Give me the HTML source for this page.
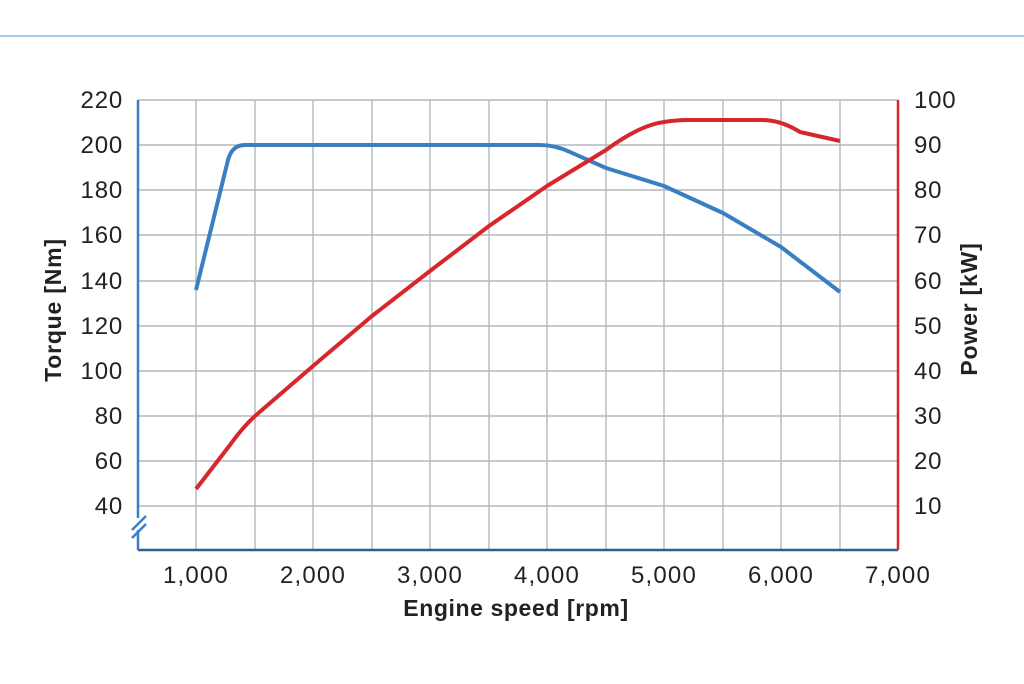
<!DOCTYPE html>
<html><head><meta charset="utf-8"><style>body{margin:0;background:#fff}svg{display:block}</style></head><body>
<svg width="1024" height="684" viewBox="0 0 1024 684" xmlns="http://www.w3.org/2000/svg" font-family="Liberation Sans, sans-serif">
<rect width="1024" height="684" fill="#fff"/>
<line x1="0" y1="36" x2="1024" y2="36" stroke="#a9c8e6" stroke-width="2"/>
<g stroke="#b4b9be" stroke-width="1.4">
<line x1="138" y1="100" x2="898" y2="100"/><line x1="138" y1="145" x2="898" y2="145"/><line x1="138" y1="190" x2="898" y2="190"/><line x1="138" y1="235" x2="898" y2="235"/><line x1="138" y1="281" x2="898" y2="281"/><line x1="138" y1="326" x2="898" y2="326"/><line x1="138" y1="371" x2="898" y2="371"/><line x1="138" y1="416" x2="898" y2="416"/><line x1="138" y1="461" x2="898" y2="461"/><line x1="138" y1="506" x2="898" y2="506"/>
<line x1="196" y1="100" x2="196" y2="550"/><line x1="255" y1="100" x2="255" y2="550"/><line x1="313" y1="100" x2="313" y2="550"/><line x1="372" y1="100" x2="372" y2="550"/><line x1="430" y1="100" x2="430" y2="550"/><line x1="489" y1="100" x2="489" y2="550"/><line x1="547" y1="100" x2="547" y2="550"/><line x1="606" y1="100" x2="606" y2="550"/><line x1="664" y1="100" x2="664" y2="550"/><line x1="723" y1="100" x2="723" y2="550"/><line x1="781" y1="100" x2="781" y2="550"/><line x1="840" y1="100" x2="840" y2="550"/>
</g>
<line x1="138" y1="550" x2="898" y2="550" stroke="#2d5f8e" stroke-width="2.5"/>
<line x1="138" y1="100" x2="138" y2="550" stroke="#3a7fc4" stroke-width="2.5"/>
<line x1="898" y1="100" x2="898" y2="550" stroke="#d7262c" stroke-width="2.5"/>
<rect x="128" y="518" width="20" height="12" fill="#fff"/>
<g stroke="#3a7fc4" stroke-width="2.5"><line x1="132" y1="530" x2="146" y2="516"/><line x1="132" y1="538" x2="146" y2="524"/></g>
<path fill="none" stroke="#3a7fc4" stroke-width="4" stroke-linejoin="round" d="M196,290 L228,160 Q232,145 245,145 L540,145 Q555,145 570,152 L606,168 L664,186 L723,213 L781,247 L840,292"/>
<path fill="none" stroke="#d7262c" stroke-width="4" stroke-linejoin="round" d="M196,489 L230,445 Q242,428 255,416 L313,366 L372,316 L430,271 L489,226 L547,186 L606,150 Q640,125 664,122 Q676,120 688,120 L762,120 Q781,120 800,132 L840,141"/>
<g font-size="24" fill="#222" text-anchor="end" letter-spacing="0.8">
<text x="123" y="108">220</text><text x="123" y="153">200</text><text x="123" y="198">180</text><text x="123" y="243">160</text><text x="123" y="289">140</text><text x="123" y="334">120</text><text x="123" y="379">100</text><text x="123" y="424">80</text><text x="123" y="469">60</text><text x="123" y="514">40</text>
</g>
<g font-size="24" fill="#222" letter-spacing="0.8">
<text x="914" y="108">100</text><text x="914" y="153">90</text><text x="914" y="198">80</text><text x="914" y="243">70</text><text x="914" y="289">60</text><text x="914" y="334">50</text><text x="914" y="379">40</text><text x="914" y="424">30</text><text x="914" y="469">20</text><text x="914" y="514">10</text>
</g>
<g font-size="24" fill="#222" text-anchor="middle" letter-spacing="1.2">
<text x="196" y="583">1,000</text><text x="313" y="583">2,000</text><text x="430" y="583">3,000</text><text x="547" y="583">4,000</text><text x="664" y="583">5,000</text><text x="781" y="583">6,000</text><text x="898" y="583">7,000</text>
</g>
<text x="516" y="616" font-size="23" font-weight="bold" fill="#222" text-anchor="middle" letter-spacing="0.6">Engine speed [rpm]</text>
<text transform="translate(61,310) rotate(-90)" font-size="23" font-weight="bold" fill="#222" text-anchor="middle" letter-spacing="0.8">Torque [Nm]</text>
<text transform="translate(977,309) rotate(-90)" font-size="23" font-weight="bold" fill="#222" text-anchor="middle" letter-spacing="0.8">Power [kW]</text>
</svg>
</body></html>
